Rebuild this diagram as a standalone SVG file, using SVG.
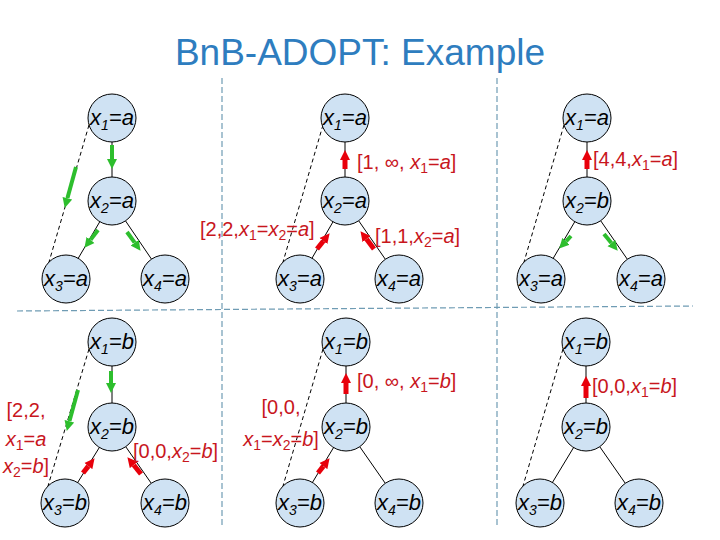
<svg xmlns="http://www.w3.org/2000/svg" width="720" height="540" viewBox="0 0 720 540">
<defs>
<style>
.title{font-family:"Liberation Sans",Arial,sans-serif;font-size:37px;fill:#2E7DBF}
.div{stroke:#6F9CB4;stroke-width:1.2;stroke-dasharray:6,3;fill:none}
.edge{stroke:#000;stroke-width:1;fill:none}
.dash{stroke:#000;stroke-width:1;stroke-dasharray:4,3;fill:none}
.ga{stroke:#2DBE2D;stroke-width:4;fill:none;marker-end:url(#gh)}
.ra{stroke:#E8000B;stroke-width:5;fill:none;marker-end:url(#rh)}
.node circle{fill:#CFE2F3;stroke:#000;stroke-width:1}
.node text{font-family:"Liberation Sans",Arial,sans-serif;font-size:22px;font-style:italic;fill:#000;text-anchor:middle}
.sub{font-size:14px}
.lbl{font-family:"Liberation Sans",Arial,sans-serif;font-size:20px;fill:#C8161D}
.i{font-style:italic}
</style>
<marker id="gh" viewBox="0 0 10 10" refX="0" refY="5" markerWidth="10" markerHeight="11" markerUnits="userSpaceOnUse" orient="auto"><path d="M0,0 L10,5 L0,10 z" fill="#2DBE2D"/></marker>
<marker id="rh" viewBox="0 0 10 10" refX="0" refY="5" markerWidth="10" markerHeight="11" markerUnits="userSpaceOnUse" orient="auto"><path d="M0,0 L10,5 L0,10 z" fill="#E8000B"/></marker>
</defs>
<rect width="720" height="540" fill="#fff"/>
<text class="title" x="360" y="65" text-anchor="middle">BnB-ADOPT: Example</text>
<g id="dividers">
<line class="div" x1="222" y1="78" x2="222" y2="528"/>
<line class="div" x1="497" y1="78" x2="497" y2="528"/>
<line class="div" x1="17" y1="311" x2="693" y2="306"/>
</g>
<g id="connectors">
<line class="edge" x1="112" y1="118" x2="112" y2="201"/>
<line class="edge" x1="112" y1="201" x2="66" y2="279"/>
<line class="edge" x1="112" y1="201" x2="165" y2="279"/>
<line class="dash" x1="89" y1="125" x2="49" y2="262"/>
<line class="edge" x1="345" y1="118" x2="345" y2="201"/>
<line class="edge" x1="345" y1="201" x2="300" y2="279"/>
<line class="edge" x1="345" y1="201" x2="399" y2="279"/>
<line class="dash" x1="323" y1="125" x2="283" y2="262"/>
<line class="edge" x1="587" y1="118" x2="587" y2="201"/>
<line class="edge" x1="587" y1="201" x2="541" y2="279"/>
<line class="edge" x1="587" y1="201" x2="641" y2="279"/>
<line class="dash" x1="564" y1="125" x2="524" y2="262"/>
<line class="edge" x1="112" y1="342" x2="112" y2="427"/>
<line class="edge" x1="112" y1="427" x2="65" y2="503"/>
<line class="edge" x1="112" y1="427" x2="165" y2="503"/>
<line class="dash" x1="89" y1="349" x2="48" y2="486"/>
<line class="edge" x1="346" y1="342" x2="346" y2="427"/>
<line class="edge" x1="346" y1="427" x2="300" y2="503"/>
<line class="edge" x1="346" y1="427" x2="399" y2="503"/>
<line class="dash" x1="323" y1="349" x2="283" y2="486"/>
<line class="edge" x1="586" y1="342" x2="586" y2="427"/>
<line class="edge" x1="586" y1="427" x2="540" y2="503"/>
<line class="edge" x1="586" y1="427" x2="639" y2="503"/>
<line class="dash" x1="563" y1="349" x2="523" y2="486"/>
<line class="ga" x1="112" y1="145" x2="112" y2="159"/>
<line class="ga" x1="76" y1="167" x2="67.4" y2="198.3"/>
<line class="ga" x1="98" y1="230" x2="90.5" y2="239.9"/>
<line class="ga" x1="127" y1="232" x2="134.7" y2="242.7"/>
<line class="ga" x1="571" y1="236" x2="566" y2="241.3"/>
<line class="ga" x1="604" y1="234" x2="611.4" y2="243"/>
<line class="ga" x1="111" y1="371" x2="111" y2="383"/>
<line class="ga" x1="78" y1="390" x2="69.4" y2="421.3"/>
<line class="ra" x1="345" y1="169" x2="345" y2="160"/>
<line class="ra" x1="317" y1="249" x2="323.4" y2="241"/>
<line class="ra" x1="374" y1="249" x2="366.5" y2="239.1"/>
<line class="ra" x1="587" y1="169" x2="587" y2="160"/>
<line class="ra" x1="83" y1="473" x2="88.4" y2="466.1"/>
<line class="ra" x1="141" y1="474" x2="133.7" y2="465"/>
<line class="ra" x1="346" y1="394" x2="346" y2="383"/>
<line class="ra" x1="318" y1="473" x2="323.4" y2="466.1"/>
<line class="ra" x1="586" y1="398" x2="586" y2="386"/>
</g>
<g id="p1-x1" class="node"><circle cx="112" cy="118" r="24"/><text x="112" y="125">x<tspan class="sub" dy="5">1</tspan><tspan dy="-5">=a</tspan></text></g>
<g id="p1-x2" class="node"><circle cx="112" cy="201" r="24"/><text x="112" y="208">x<tspan class="sub" dy="5">2</tspan><tspan dy="-5">=a</tspan></text></g>
<g id="p1-x3" class="node"><circle cx="66" cy="279" r="24"/><text x="66" y="286">x<tspan class="sub" dy="5">3</tspan><tspan dy="-5">=a</tspan></text></g>
<g id="p1-x4" class="node"><circle cx="165" cy="279" r="24"/><text x="165" y="286">x<tspan class="sub" dy="5">4</tspan><tspan dy="-5">=a</tspan></text></g>
<g id="p2-x1" class="node"><circle cx="345" cy="118" r="24"/><text x="345" y="125">x<tspan class="sub" dy="5">1</tspan><tspan dy="-5">=a</tspan></text></g>
<g id="p2-x2" class="node"><circle cx="345" cy="201" r="24"/><text x="345" y="208">x<tspan class="sub" dy="5">2</tspan><tspan dy="-5">=a</tspan></text></g>
<g id="p2-x3" class="node"><circle cx="300" cy="279" r="24"/><text x="300" y="286">x<tspan class="sub" dy="5">3</tspan><tspan dy="-5">=a</tspan></text></g>
<g id="p2-x4" class="node"><circle cx="399" cy="279" r="24"/><text x="399" y="286">x<tspan class="sub" dy="5">4</tspan><tspan dy="-5">=a</tspan></text></g>
<g id="p3-x1" class="node"><circle cx="587" cy="118" r="24"/><text x="587" y="125">x<tspan class="sub" dy="5">1</tspan><tspan dy="-5">=a</tspan></text></g>
<g id="p3-x2" class="node"><circle cx="587" cy="201" r="24"/><text x="587" y="208">x<tspan class="sub" dy="5">2</tspan><tspan dy="-5">=b</tspan></text></g>
<g id="p3-x3" class="node"><circle cx="541" cy="279" r="24"/><text x="541" y="286">x<tspan class="sub" dy="5">3</tspan><tspan dy="-5">=a</tspan></text></g>
<g id="p3-x4" class="node"><circle cx="641" cy="279" r="24"/><text x="641" y="286">x<tspan class="sub" dy="5">4</tspan><tspan dy="-5">=a</tspan></text></g>
<g id="p4-x1" class="node"><circle cx="112" cy="342" r="24"/><text x="112" y="349">x<tspan class="sub" dy="5">1</tspan><tspan dy="-5">=b</tspan></text></g>
<g id="p4-x2" class="node"><circle cx="112" cy="427" r="24"/><text x="112" y="434">x<tspan class="sub" dy="5">2</tspan><tspan dy="-5">=b</tspan></text></g>
<g id="p4-x3" class="node"><circle cx="65" cy="503" r="24"/><text x="65" y="510">x<tspan class="sub" dy="5">3</tspan><tspan dy="-5">=b</tspan></text></g>
<g id="p4-x4" class="node"><circle cx="165" cy="503" r="24"/><text x="165" y="510">x<tspan class="sub" dy="5">4</tspan><tspan dy="-5">=b</tspan></text></g>
<g id="p5-x1" class="node"><circle cx="346" cy="342" r="24"/><text x="346" y="349">x<tspan class="sub" dy="5">1</tspan><tspan dy="-5">=b</tspan></text></g>
<g id="p5-x2" class="node"><circle cx="346" cy="427" r="24"/><text x="346" y="434">x<tspan class="sub" dy="5">2</tspan><tspan dy="-5">=b</tspan></text></g>
<g id="p5-x3" class="node"><circle cx="300" cy="503" r="24"/><text x="300" y="510">x<tspan class="sub" dy="5">3</tspan><tspan dy="-5">=b</tspan></text></g>
<g id="p5-x4" class="node"><circle cx="399" cy="503" r="24"/><text x="399" y="510">x<tspan class="sub" dy="5">4</tspan><tspan dy="-5">=b</tspan></text></g>
<g id="p6-x1" class="node"><circle cx="586" cy="342" r="24"/><text x="586" y="349">x<tspan class="sub" dy="5">1</tspan><tspan dy="-5">=b</tspan></text></g>
<g id="p6-x2" class="node"><circle cx="586" cy="427" r="24"/><text x="586" y="434">x<tspan class="sub" dy="5">2</tspan><tspan dy="-5">=b</tspan></text></g>
<g id="p6-x3" class="node"><circle cx="540" cy="503" r="24"/><text x="540" y="510">x<tspan class="sub" dy="5">3</tspan><tspan dy="-5">=b</tspan></text></g>
<g id="p6-x4" class="node"><circle cx="639" cy="503" r="24"/><text x="639" y="510">x<tspan class="sub" dy="5">4</tspan><tspan dy="-5">=b</tspan></text></g>
<g id="labels">
<text class="lbl" x="357" y="169">[1, ∞, <tspan class="i">x</tspan><tspan class="sub" dy="4">1</tspan><tspan dy="-4">=</tspan><tspan class="i">a</tspan>]</text>
<text class="lbl" x="200" y="236">[2,2,<tspan class="i">x</tspan><tspan class="sub" dy="4">1</tspan><tspan dy="-4">=</tspan><tspan class="i">x</tspan><tspan class="sub" dy="4">2</tspan><tspan dy="-4">=</tspan><tspan class="i">a</tspan>]</text>
<text class="lbl" x="375" y="243">[1,1,<tspan class="i">x</tspan><tspan class="sub" dy="4">2</tspan><tspan dy="-4">=</tspan><tspan class="i">a</tspan>]</text>
<text class="lbl" x="593" y="166">[4,4,<tspan class="i">x</tspan><tspan class="sub" dy="4">1</tspan><tspan dy="-4">=</tspan><tspan class="i">a</tspan>]</text>
<text class="lbl" x="26" y="417" text-anchor="middle">[2,2,</text>
<text class="lbl" x="26" y="446" text-anchor="middle"><tspan class="i">x</tspan><tspan class="sub" dy="4">1</tspan><tspan dy="-4">=</tspan><tspan class="i">a</tspan></text>
<text class="lbl" x="26" y="473" text-anchor="middle"><tspan class="i">x</tspan><tspan class="sub" dy="4">2</tspan><tspan dy="-4">=</tspan><tspan class="i">b</tspan>]</text>
<text class="lbl" x="133" y="458">[0,0,<tspan class="i">x</tspan><tspan class="sub" dy="4">2</tspan><tspan dy="-4">=</tspan><tspan class="i">b</tspan>]</text>
<text class="lbl" x="357" y="388">[0, ∞, <tspan class="i">x</tspan><tspan class="sub" dy="4">1</tspan><tspan dy="-4">=</tspan><tspan class="i">b</tspan>]</text>
<text class="lbl" x="281" y="414" text-anchor="middle">[0,0,</text>
<text class="lbl" x="281" y="446" text-anchor="middle"><tspan class="i">x</tspan><tspan class="sub" dy="4">1</tspan><tspan dy="-4">=</tspan><tspan class="i">x</tspan><tspan class="sub" dy="4">2</tspan><tspan dy="-4">=</tspan><tspan class="i">b</tspan>]</text>
<text class="lbl" x="592" y="393">[0,0,<tspan class="i">x</tspan><tspan class="sub" dy="4">1</tspan><tspan dy="-4">=</tspan><tspan class="i">b</tspan>]</text>
</g>
</svg>
